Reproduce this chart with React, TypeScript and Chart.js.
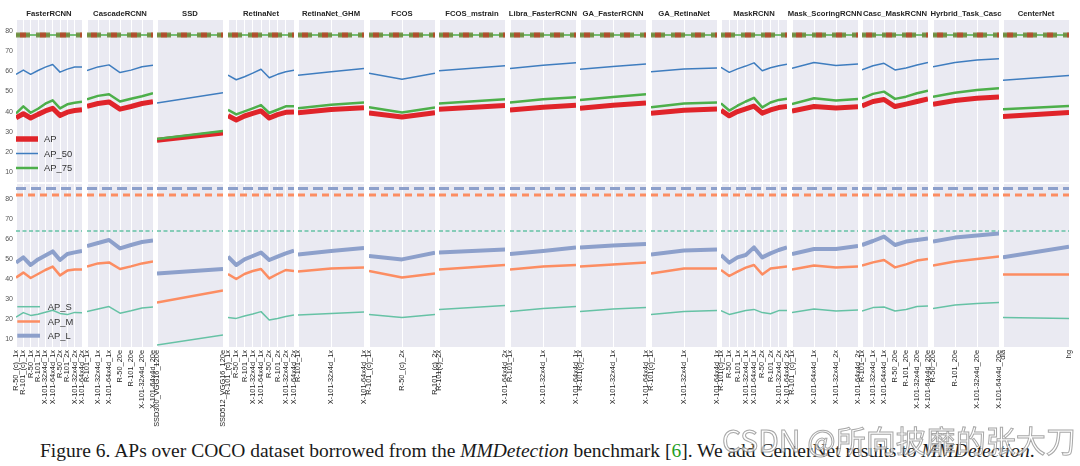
import React, { useEffect, useRef } from "react";
import { Chart, registerables } from "chart.js";

Chart.register(...registerables);

// ---------------- data ----------------
const panelTitles = [
  "FasterRCNN", "CascadeRCNN", "SSD", "RetinaNet", "RetinaNet_GHM", "FCOS", "FCOS_mstrain",
  "Libra_FasterRCNN", "GA_FasterRCNN", "GA_RetinaNet", "MaskRCNN", "Mask_ScoringRCNN",
  "Casc_MaskRCNN", "Hyrbrid_Task_Casc", "CenterNet",
];

const categories: string[][] = [
  ["R-50_(c)_1x", "R-101_(c)_1x", "R-50_1x", "R-101_1x", "X-101-32x4d_1x", "X-101-64x4d_1x", "R-50_2x", "R-101_2x", "X-101-32x4d_2x", "X-101-64x4d_2x"],
  ["R-101_1x", "X-101-32x4d_1x", "X-101-64x4d_1x", "R-50_20e", "R-101_20e", "X-101-32x4d_20e", "X-101-64x4d_20e"],
  ["SSD300_VGG16_120e", "SSD512_VGG16_120e"],
  ["R-101_(c)_1x", "R-50_1x", "R-101_1x", "X-101-32x4d_1x", "X-101-64x4d_1x", "R-50_2x", "R-101_2x", "X-101-32x4d_2x", "X-101-64x4d_2x"],
  ["R-101_1x", "X-101-32x4d_1x", "X-101-64x4d_1x"],
  ["R-101_(c)_1x", "R-50_(c)_2x", "R-101_(c)_2x"],
  ["R-101(c)_2x", "X-101-64x4d_2x"],
  ["R-101_1x", "X-101-32x4d_1x", "X-101-64x4d_1x"],
  ["R-101(c)_1x", "X-101-32x4d_1x", "X-101-64x4d_1x"],
  ["R-101(c)_1x", "X-101-32x4d_1x", "X-101-64x4d_1x"],
  ["R-101(c)_1x", "R-50_1x", "R-101_1x", "X-101-32x4d_1x", "X-101-64x4d_1x", "R-50_2x", "R-101_2x", "X-101-32x4d_2x", "X-101-64x4d_2x"],
  ["R-101_(c)_1x", "X-101-64x4d_1x", "X-101-32x4d_2x", "X-101-64x4d_2x"],
  ["R-101_1x", "X-101-32x4d_1x", "X-101-64x4d_1x", "R-50_20e", "R-101_20e", "X-101-32x4d_20e", "X-101-64x4d_20e"],
  ["R-50_20e", "R-101_20e", "X-101-32x4d_20e", "X-101-64x4d_20e"],
  ["dla", "hg"],
];

const apValues: number[][] = [
  [36.9, 38.9, 36.8, 38.6, 40.3, 41.6, 38.0, 39.7, 40.5, 40.9],
  [42.6, 44.0, 44.8, 41.2, 42.5, 44.0, 44.9],
  [25.7, 29.3],
  [37.9, 35.8, 37.8, 39.1, 40.3, 36.8, 38.5, 39.6, 39.8],
  [39.4, 41.0, 41.9],
  [39.3, 37.3, 39.4],
  [41.2, 43.0],
  [40.8, 42.1, 43.1],
  [41.7, 43.1, 44.2],
  [39.2, 40.7, 41.3],
  [40.6, 37.9, 40.0, 41.3, 42.7, 39.2, 40.8, 42.0, 42.5],
  [40.3, 42.5, 41.8, 42.4],
  [42.8, 45.0, 46.0, 42.5, 43.7, 45.0, 46.3],
  [43.6, 45.5, 46.6, 47.3],
  [37.5, 39.6],
];

const ap50Values: number[][] = [
  [58.5, 60.6, 58.5, 60.4, 62.1, 63.4, 59.6, 61.1, 62.1, 62.1],
  [60.4, 62.2, 63.2, 59.4, 60.6, 62.3, 63.0],
  [44.2, 49.3],
  [58.1, 55.8, 57.3, 59.1, 61.0, 56.8, 58.5, 59.8, 60.5],
  [58.0, 59.8, 61.4],
  [59.0, 56.1, 59.1],
  [60.3, 62.8],
  [61.4, 63.0, 64.3],
  [61.0, 62.4, 63.6],
  [59.8, 61.2, 61.6],
  [62.0, 59.5, 61.2, 62.6, 64.2, 60.3, 61.8, 62.8, 63.5],
  [61.5, 64.4, 62.9, 63.6],
  [60.7, 62.8, 64.0, 60.7, 61.6, 63.1, 64.4],
  [62.3, 64.4, 65.6, 66.3],
  [55.5, 57.9],
];

const ap75Values: number[][] = [
  [39.1, 42.6, 39.4, 41.4, 43.9, 45.6, 41.6, 43.6, 44.4, 44.9],
  [46.1, 47.8, 48.6, 45.0, 46.4, 47.6, 49.1],
  [26.4, 30.3],
  [40.8, 38.6, 40.1, 41.6, 43.2, 39.3, 40.9, 42.6, 42.7],
  [41.7, 43.4, 44.5],
  [42.1, 39.5, 42.0],
  [44.0, 46.1],
  [44.5, 46.1, 47.1],
  [45.8, 47.2, 48.6],
  [42.1, 44.0, 44.5],
  [44.1, 40.5, 42.9, 45.0, 46.8, 42.1, 44.5, 45.8, 46.4],
  [43.8, 46.6, 45.5, 46.3],
  [46.6, 48.8, 49.9, 46.3, 47.4, 49.1, 50.4],
  [47.3, 49.3, 50.7, 51.6],
  [41.2, 42.8],
];

const apSValues: number[][] = [
  [21.0, 23.2, 21.8, 22.4, 23.4, 24.4, 22.8, 22.2, 23.3, 23.1],
  [23.7, 25.0, 26.2, 22.9, 24.1, 25.5, 26.0],
  [7.0, 12.0],
  [20.8, 20.3, 21.5, 22.5, 23.7, 19.5, 20.3, 21.2, 22.0],
  [22.0, 22.8, 23.5],
  [22.3, 20.7, 22.3],
  [24.8, 26.8],
  [23.7, 25.2, 26.2],
  [23.7, 25.0, 25.8],
  [22.3, 23.7, 24.2],
  [24.2, 22.3, 23.3, 24.3, 24.8, 23.2, 22.6, 24.2, 24.2],
  [23.3, 25.0, 24.0, 24.5],
  [24.0, 25.7, 26.0, 24.0, 24.8, 26.2, 26.5],
  [25.3, 27.0, 27.8, 28.3],
  [20.8, 20.3],
];

const apMValues: number[][] = [
  [40.7, 43.2, 40.5, 42.5, 44.5, 46.2, 41.8, 44.2, 44.8, 44.8],
  [46.2, 47.8, 48.3, 45.0, 46.3, 47.8, 48.7],
  [28.2, 34.2],
  [42.5, 40.0, 42.5, 44.0, 45.0, 40.3, 42.5, 44.5, 44.0],
  [43.8, 45.2, 45.8],
  [44.0, 40.7, 42.7],
  [44.8, 47.0],
  [44.8, 46.2, 47.0],
  [46.2, 47.3, 48.3],
  [42.8, 45.3, 45.3],
  [44.5, 41.5, 43.7, 45.7, 47.0, 42.3, 45.3, 45.8, 46.2],
  [44.8, 46.7, 45.7, 46.2],
  [46.7, 48.3, 49.5, 45.8, 47.3, 49.2, 50.0],
  [46.7, 48.7, 50.0, 51.2],
  [42.3, 42.3],
];

const apLValues: number[][] = [
  [48.2, 50.8, 47.0, 49.8, 51.8, 53.8, 49.5, 52.5, 53.3, 54.0],
  [56.5, 58.0, 59.5, 55.3, 57.0, 58.5, 59.2],
  [42.8, 45.0],
  [51.2, 47.0, 49.8, 51.5, 53.2, 49.5, 51.2, 52.8, 54.2],
  [52.3, 54.0, 55.5],
  [51.5, 49.8, 53.2],
  [53.3, 54.8],
  [52.5, 54.0, 55.8],
  [55.8, 56.7, 57.5],
  [52.3, 54.2, 54.8],
  [52.0, 48.2, 50.8, 52.0, 55.8, 50.8, 52.8, 54.5, 55.8],
  [52.5, 55.0, 55.0, 56.5],
  [57.0, 59.0, 61.2, 57.0, 58.7, 59.5, 60.3],
  [58.7, 60.7, 61.8, 62.8],
  [50.8, 56.2],
];

const yTicks = [10, 20, 30, 40, 50, 60, 70, 80];
const topLegendLabels = ["AP", "AP_50", "AP_75"];
const bottomLegendLabels = ["AP_S", "AP_M", "AP_L"];
const topRefValue = 78;
const bottomRefS = 64;
const bottomRefM = 82;
const bottomRefL = 85.2;

// ---------------- styles / geometry ----------------
const BG = "#eaeaf2";
const C_AP = "#e0242a";
const C_AP50 = "#3f7dbf";
const C_AP75 = "#4daf4a";
const C_S = "#66c2a5";
const C_M = "#fc8d62";
const C_L = "#8da0cb";

const LEFT0 = 16;
const PITCH = 70.5;
const PW = 66;
const SIDE = 8;
const YAXIS_W = 16;
const TOP_Y0 = 20;
const TOP_Y1 = 182;
const BOT_Y0 = 184;
const BOT_Y1 = 347;
const XLABEL_H = 82;

const SANS = '"Liberation Sans", Arial, sans-serif';

function lineDs(data: number[], color: string, width: number, dash: number[] = [], extra: any = {}) {
  return {
    data,
    borderColor: color,
    backgroundColor: color,
    borderWidth: width,
    borderDash: dash,
    pointRadius: 0,
    pointHoverRadius: 0,
    tension: 0,
    fill: false,
    clip: 0,
    borderJoinStyle: "round",
    borderCapStyle: "butt",
    ...extra,
  };
}

function makeDecor(title: string | null, legend: { label: string; color: string; width: number }[] | null, legendRows: number[], lineX: [number, number], textX: number) {
  return {
    id: "decor",
    beforeDraw(chart: any) {
      const { ctx, chartArea: a } = chart;
      ctx.save();
      ctx.fillStyle = BG;
      ctx.fillRect(a.left, a.top, a.right - a.left, a.bottom - a.top);
      ctx.restore();
    },
    afterDraw(chart: any) {
      const { ctx, chartArea: a } = chart;
      ctx.save();
      if (title) {
        ctx.font = `bold 7.7px ${SANS}`;
        ctx.fillStyle = "#262626";
        ctx.textAlign = "center";
        ctx.textBaseline = "middle";
        ctx.fillText(title, (a.left + a.right) / 2, a.top - 5.7);
      }
      if (legend) {
        legend.forEach((it, i) => {
          const y = a.top + legendRows[i];
          ctx.beginPath();
          ctx.strokeStyle = it.color;
          ctx.lineWidth = it.width;
          ctx.lineCap = "butt";
          ctx.moveTo(a.left + lineX[0], y);
          ctx.lineTo(a.left + lineX[1], y);
          ctx.stroke();
          ctx.font = `9.4px ${SANS}`;
          ctx.fillStyle = "#333";
          ctx.textAlign = "left";
          ctx.textBaseline = "middle";
          ctx.fillText(it.label, a.left + textX, y + 0.5);
        });
      }
      ctx.restore();
    },
  };
}

function Panel({ idx, row }: { idx: number; row: number }) {
  const ref = useRef<HTMLCanvasElement | null>(null);
  const first = idx === 0;
  const panelLeft = Math.round(LEFT0 + PITCH * idx);
  const padL = first ? YAXIS_W : SIDE;
  const cw = padL + PW + SIDE;
  const top = row === 0 ? 0 : BOT_Y0;
  const ch = row === 0 ? TOP_Y1 : BOT_Y1 - BOT_Y0 + XLABEL_H;

  useEffect(() => {
    const labels = categories[idx];
    const refLine = (v: number) => labels.map(() => v);
    let datasets: any[];
    if (row === 0) {
      datasets = [
        lineDs(ap75Values[idx], C_AP75, 2.5),
        lineDs(ap50Values[idx], C_AP50, 1.5),
        lineDs(apValues[idx], C_AP, 5),
        lineDs(refLine(topRefValue), "rgba(228,26,28,0.55)", 5, [6, 14], { borderDashOffset: -4 }),
        lineDs(refLine(topRefValue), "rgba(110,140,60,0.9)", 5, [14, 6]),
        lineDs(refLine(topRefValue), C_AP75, 1.5),
      ];
    } else {
      datasets = [
        lineDs(apLValues[idx], C_L, 4),
        lineDs(apMValues[idx], C_M, 2.5),
        lineDs(apSValues[idx], C_S, 1.5),
        lineDs(refLine(bottomRefL), C_L, 3, [10, 5]),
        lineDs(refLine(bottomRefM), C_M, 3, [7, 5]),
        lineDs(refLine(bottomRefS), C_S, 1.5, [4, 2.5]),
      ];
    }

    const legend = first
      ? row === 0
        ? [
            { label: topLegendLabels[0], color: C_AP, width: 5.5 },
            { label: topLegendLabels[1], color: C_AP50, width: 1.5 },
            { label: topLegendLabels[2], color: C_AP75, width: 2.5 },
          ]
        : [
            { label: bottomLegendLabels[0], color: C_S, width: 1.5 },
            { label: bottomLegendLabels[1], color: C_M, width: 2.5 },
            { label: bottomLegendLabels[2], color: C_L, width: 4 },
          ]
      : null;
    const legendRows = row === 0 ? [119, 133.5, 148] : [122.7, 137.5, 151.7];
    const lineX: [number, number] = row === 0 ? [0, 22] : [1.3, 24];
    const textX = row === 0 ? 28 : 31.7;

    const decor = makeDecor(row === 0 ? panelTitles[idx] : null, legend, legendRows, lineX, textX);

    const chart = new Chart(ref.current as HTMLCanvasElement, {
      type: "line",
      data: { labels, datasets },
      options: {
        animation: false,
        responsive: false,
        maintainAspectRatio: false,
        devicePixelRatio: 1,
        events: [],
        layout: {
          padding: { top: row === 0 ? TOP_Y0 : 0, bottom: 0, left: first ? 0 : SIDE, right: SIDE },
        },
        plugins: { legend: { display: false }, tooltip: { enabled: false }, title: { display: false } },
        scales: {
          x: {
            type: "category",
            offset: false,
            grid: { display: true, color: "#ffffff", lineWidth: 1, drawTicks: false },
            border: { display: false },
            ticks: {
              display: row === 1,
              autoSkip: false,
              minRotation: 90,
              maxRotation: 90,
              padding: 3,
              color: "#222",
              font: { family: SANS, size: 7.4 },
            },
            afterFit: (s: any) => {
              s.height = row === 1 ? XLABEL_H : 0;
              s.paddingLeft = 0;
              s.paddingRight = 0;
            },
          },
          y: {
            type: "linear",
            min: row === 0 ? 5 : 6,
            max: row === 0 ? 85.5 : 87.5,
            grid: { display: false, drawTicks: false },
            border: { display: false },
            afterBuildTicks: (s: any) => {
              s.ticks = yTicks.map((v) => ({ value: v }));
            },
            ticks: {
              display: first,
              padding: 3,
              color: "#555",
              font: { family: SANS, size: 7 },
            },
            afterFit: (s: any) => {
              s.width = first ? YAXIS_W : 0;
              s.paddingTop = 0;
              s.paddingBottom = 0;
            },
          },
        },
      } as any,
      plugins: [decor as any],
    });
    return () => chart.destroy();
  }, [idx, row, first]);

  return (
    <canvas
      ref={ref}
      width={cw}
      height={ch}
      style={{ position: "absolute", left: panelLeft - padL, top, width: cw, height: ch }}
    />
  );
}

export default function App() {
  const panels: React.ReactNode[] = [];
  for (let r = 0; r < 2; r++) {
    for (let i = 0; i < panelTitles.length; i++) {
      panels.push(<Panel key={`${r}-${i}`} idx={i} row={r} />);
    }
  }
  return (
    <div style={{ position: "absolute", left: 0, top: 0, width: 1080, height: 466, background: "#fff", overflow: "hidden" }}>
      {panels}
      <div
        style={{
          position: "absolute",
          left: 40,
          top: 440,
          fontFamily: '"Liberation Serif", "Times New Roman", serif',
          fontSize: 19.5,
          lineHeight: "22px",
          color: "#1a1a1a",
          whiteSpace: "nowrap",
        }}
      >
        Figure 6. APs over COCO dataset borrowed from the <i>MMDetection</i> benchmark [<span style={{ color: "#1f9e1f" }}>6</span>]. We add CenterNet results to <i>MMDetection</i>.
      </div>
      <div
        style={{
          position: "absolute",
          left: 722,
          top: 421,
          fontFamily: '"Noto Sans CJK SC", "Noto Sans", sans-serif',
          fontSize: 30,
          lineHeight: "36px",
          color: "rgba(255,255,255,0.7)",
          WebkitTextStroke: "1px rgba(130,130,130,0.7)",
          whiteSpace: "nowrap",
        }}
      >
        CSDN @所向披靡的张大刀
      </div>
    </div>
  );
}
